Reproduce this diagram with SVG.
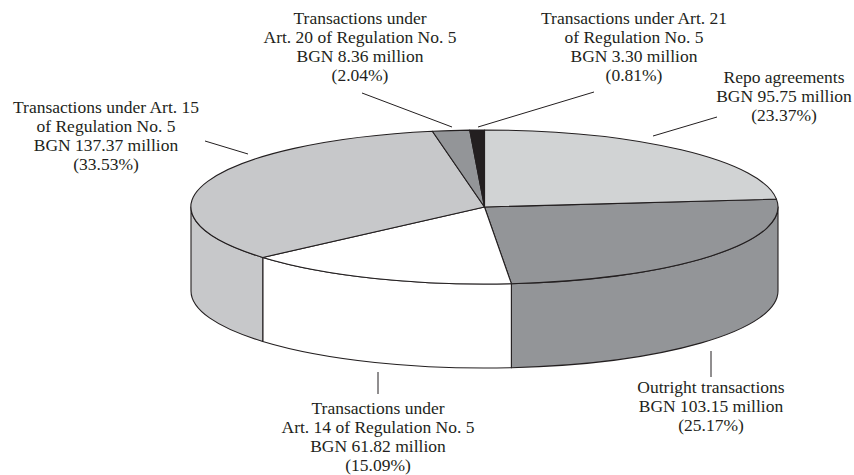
<svg xmlns="http://www.w3.org/2000/svg" width="854" height="475" viewBox="0 0 854 475">
<style>
.s{stroke:#231f20;stroke-width:1.1;stroke-linejoin:round}
.l1{fill:#d1d3d4}.l2{fill:#c7c8ca}.dg{fill:#939598}.wh{fill:#ffffff}.bk{fill:#231f20}
.t{font-family:"Liberation Serif","Times New Roman",serif;font-size:17.5px;fill:#231f20;text-anchor:middle}
.ld{stroke:#231f20;stroke-width:1;fill:none}
</style>
<rect width="854" height="475" fill="#ffffff"/>
<g id="slice-outright">
<path class="s dg" d="M778,207 A293.5,77 0 0 1 511.38,283.68 L511.38,367.68 A293.5,77 0 0 0 778,291 Z"/>
<path class="s dg" d="M484.5,207 L776.46,199.13 A293.5,77 0 0 1 511.38,283.68 Z"/>
</g>
<g id="slice-art14">
<path class="s wh" d="M511.38,283.68 A293.5,77 0 0 1 262.77,257.45 L262.77,341.45 A293.5,77 0 0 0 511.38,367.68 Z"/>
<path class="s wh" d="M484.5,207 L511.38,283.68 A293.5,77 0 0 1 262.77,257.45 Z"/>
</g>
<g id="slice-art15">
<path class="s l2" d="M262.77,257.45 A293.5,77 0 0 1 191,207 L191,291 A293.5,77 0 0 0 262.77,341.45 Z"/>
<path class="s l2" d="M484.5,207 L262.77,257.45 A293.5,77 0 0 1 432.4,131.22 Z"/>
</g>
<g id="slice-repo">
<path class="s l1" d="M484.5,207 L484.5,130 A293.5,77 0 0 1 776.46,199.13 Z"/>
</g>
<g id="slice-art20">
<path class="s dg" d="M484.5,207 L432.4,131.22 A293.5,77 0 0 1 469.75,130.1 Z"/>
</g>
<g id="slice-art21">
<path class="s bk" d="M484.5,207 L469.75,130.1 A293.5,77 0 0 1 484.5,130 Z"/>
</g>
<g id="connectors">
<line class="ld" x1="205" y1="141" x2="248" y2="154"/>
<line class="ld" x1="362" y1="93" x2="452" y2="127"/>
<line class="ld" x1="594" y1="92" x2="478" y2="127"/>
<line class="ld" x1="717" y1="117" x2="653" y2="136"/>
<line class="ld" x1="378" y1="372" x2="378" y2="394"/>
<line class="ld" x1="711" y1="351" x2="711" y2="377"/>
</g>
<g id="label-art15">
<text class="t" x="106" y="113">Transactions under Art. 15</text>
<text class="t" x="106" y="132">of Regulation No. 5</text>
<text class="t" x="106" y="151">BGN 137.37 million</text>
<text class="t" x="106" y="170">(33.53%)</text>
</g>
<g id="label-art20">
<text class="t" x="360" y="24">Transactions under</text>
<text class="t" x="360" y="43">Art. 20 of Regulation No. 5</text>
<text class="t" x="360" y="62">BGN 8.36 million</text>
<text class="t" x="360" y="81">(2.04%)</text>
</g>
<g id="label-art21">
<text class="t" x="634" y="24">Transactions under Art. 21</text>
<text class="t" x="634" y="43">of Regulation No. 5</text>
<text class="t" x="634" y="62">BGN 3.30 million</text>
<text class="t" x="634" y="81">(0.81%)</text>
</g>
<g id="label-repo">
<text class="t" x="784" y="83">Repo agreements</text>
<text class="t" x="784" y="102">BGN 95.75 million</text>
<text class="t" x="784" y="121">(23.37%)</text>
</g>
<g id="label-outright">
<text class="t" x="711" y="393">Outright transactions</text>
<text class="t" x="711" y="412">BGN 103.15 million</text>
<text class="t" x="711" y="431">(25.17%)</text>
</g>
<g id="label-art14">
<text class="t" x="378" y="414">Transactions under</text>
<text class="t" x="378" y="433">Art. 14 of Regulation No. 5</text>
<text class="t" x="378" y="452">BGN 61.82 million</text>
<text class="t" x="378" y="471">(15.09%)</text>
</g>
</svg>
